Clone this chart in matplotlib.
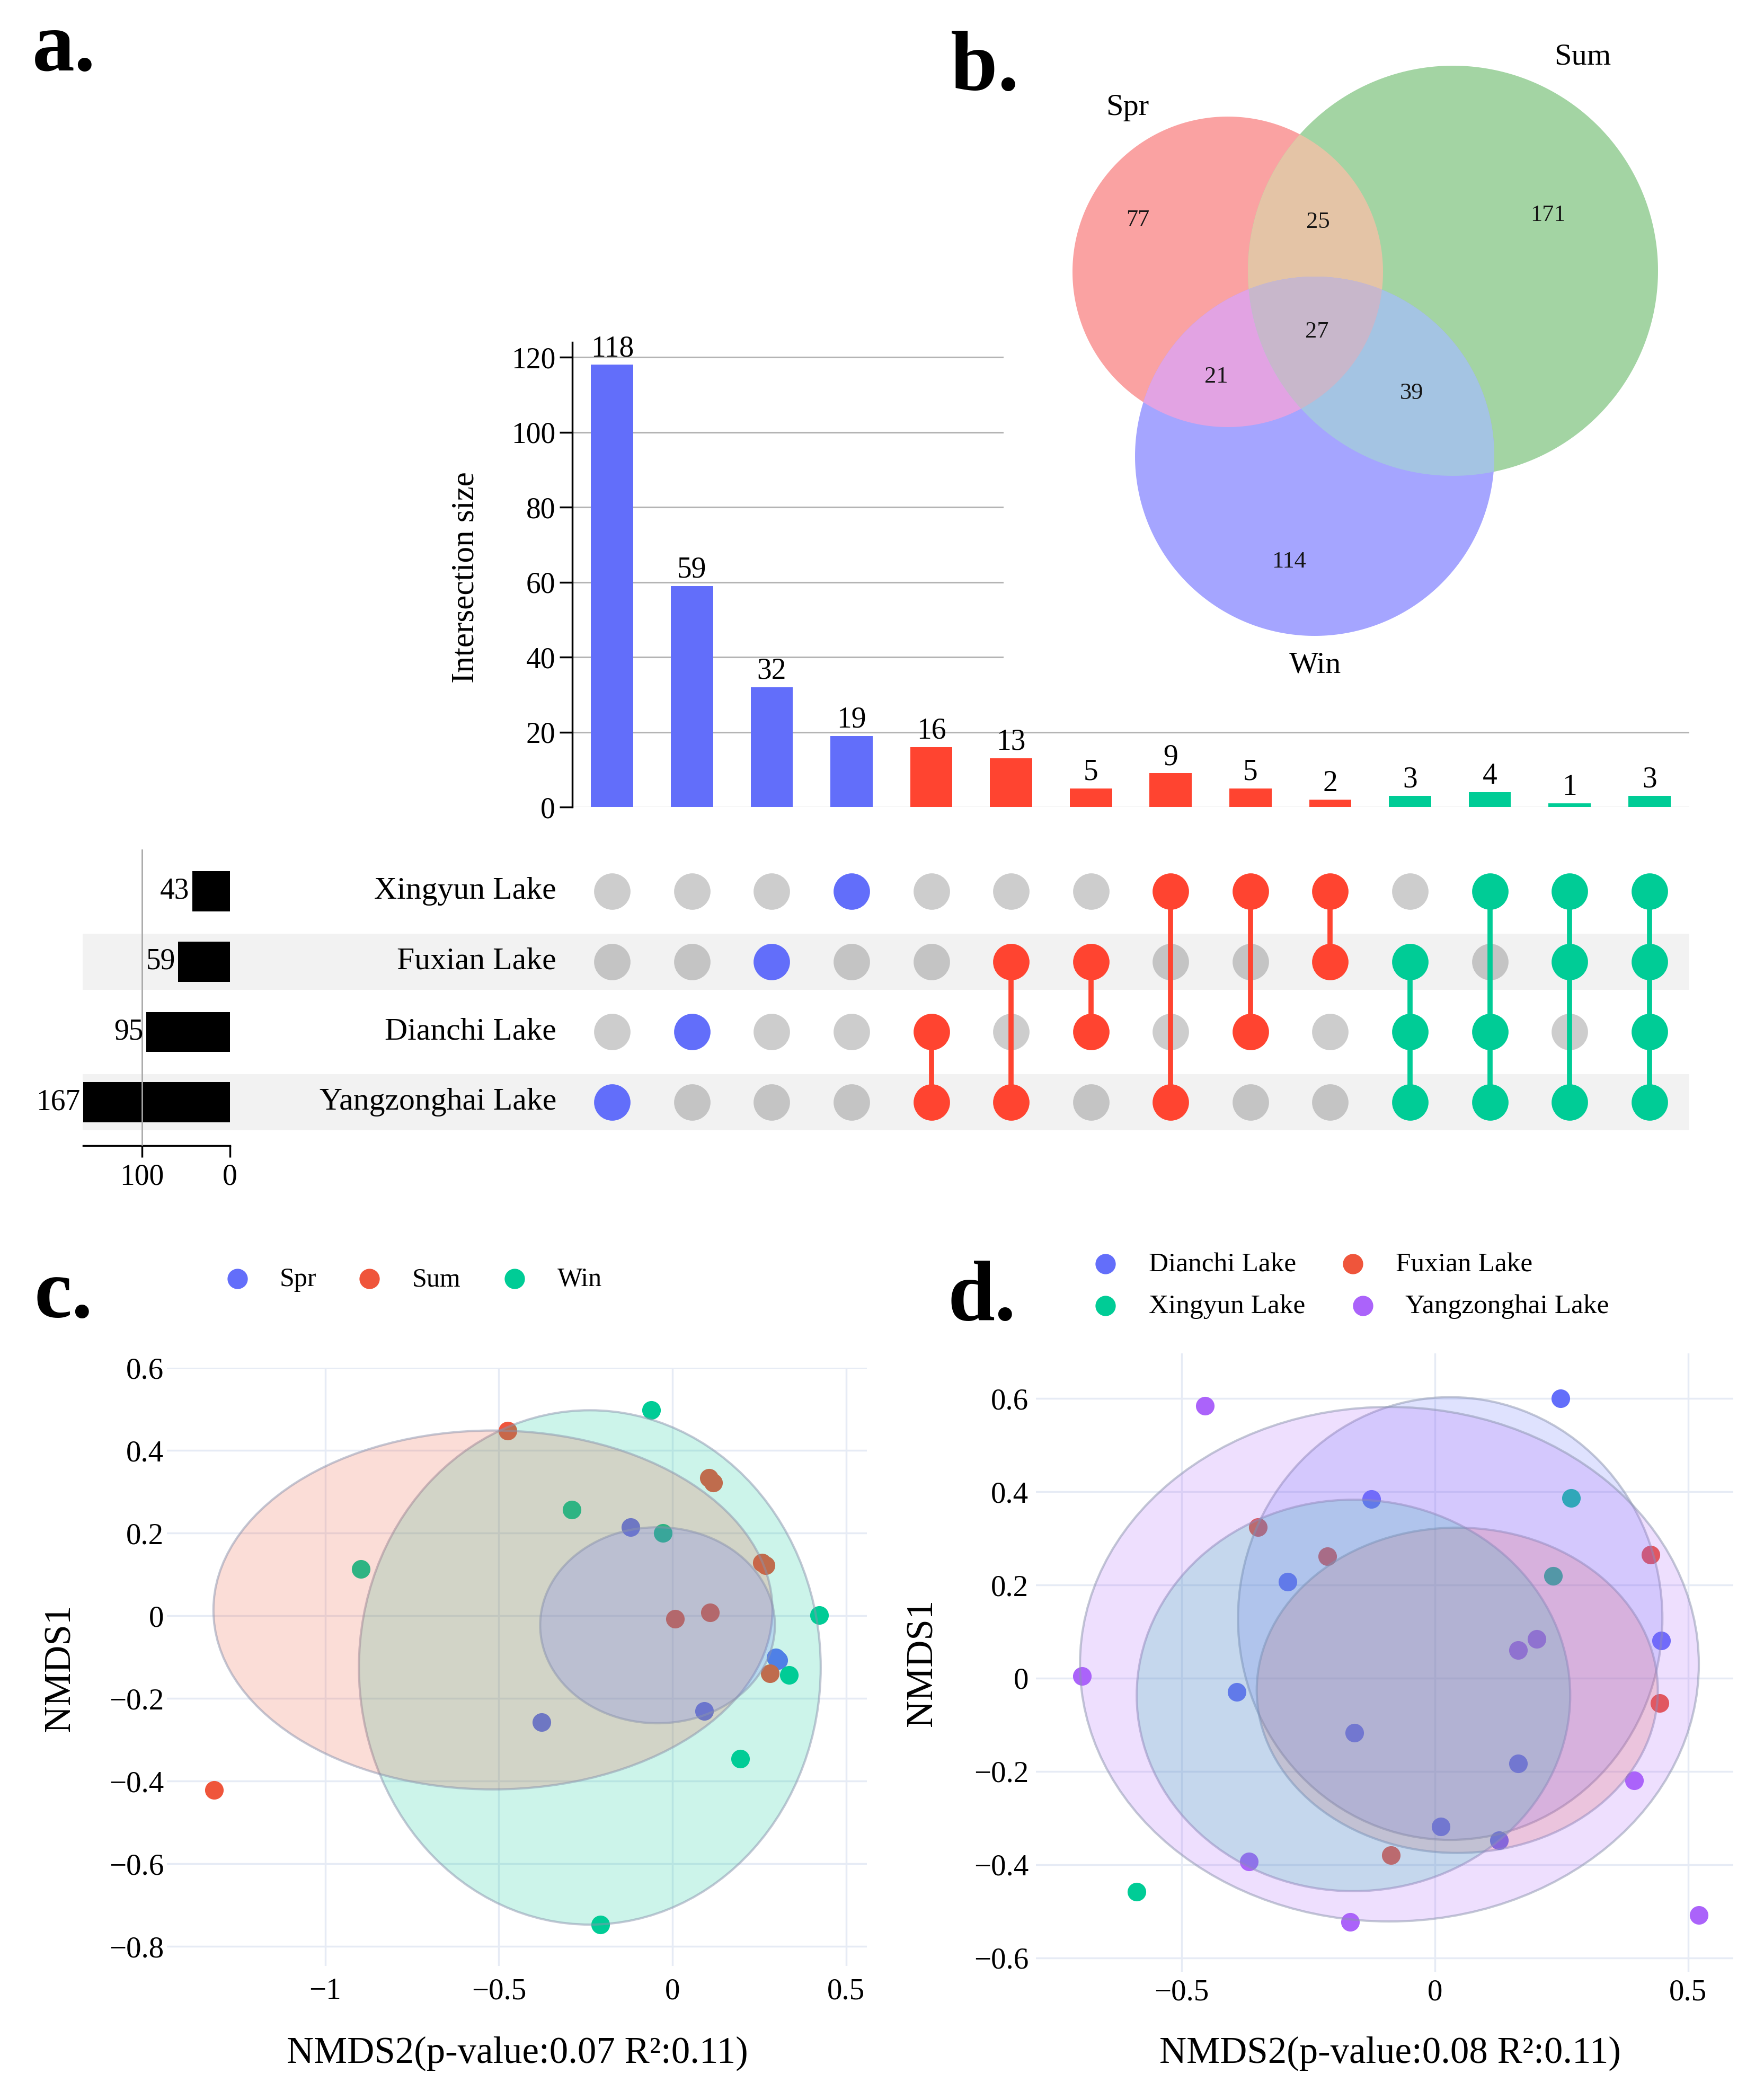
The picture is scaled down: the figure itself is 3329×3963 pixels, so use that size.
import numpy as np
import matplotlib
matplotlib.use('Agg')
import matplotlib.pyplot as plt
from matplotlib.patches import Ellipse, Polygon, Rectangle
from matplotlib.colors import to_rgba
from matplotlib.transforms import blended_transform_factory

plt.rcParams['font.family'] = ['Liberation Serif', 'DejaVu Serif']

W, H = 3330, 3963

# ---------------- panel a : upset ----------------
lakes = ['Xingyun Lake', 'Fuxian Lake', 'Dianchi Lake', 'Yangzonghai Lake']
set_sizes = [43, 59, 95, 167]
inter_sizes = [118, 59, 32, 19, 16, 13, 5, 9, 5, 2, 3, 4, 1, 3]
inter_members = [
    ['Yangzonghai Lake'], ['Dianchi Lake'], ['Fuxian Lake'], ['Xingyun Lake'],
    ['Dianchi Lake', 'Yangzonghai Lake'], ['Fuxian Lake', 'Yangzonghai Lake'],
    ['Fuxian Lake', 'Dianchi Lake'], ['Xingyun Lake', 'Yangzonghai Lake'],
    ['Xingyun Lake', 'Dianchi Lake'], ['Xingyun Lake', 'Fuxian Lake'],
    ['Fuxian Lake', 'Dianchi Lake', 'Yangzonghai Lake'],
    ['Xingyun Lake', 'Dianchi Lake', 'Yangzonghai Lake'],
    ['Xingyun Lake', 'Fuxian Lake', 'Yangzonghai Lake'],
    ['Xingyun Lake', 'Fuxian Lake', 'Dianchi Lake', 'Yangzonghai Lake'],
]
degree_colors = {1: '#626EFA', 2: '#FF4430', 3: '#00CC96', 4: '#00CC96'}

# ---------------- panel b : venn ----------------
venn_names = ['Spr', 'Sum', 'Win']
venn_regions = [('Spr',), ('Sum',), ('Win',), ('Spr', 'Sum'), ('Spr', 'Win'),
                ('Sum', 'Win'), ('Spr', 'Sum', 'Win')]
venn_counts = [77, 171, 114, 25, 21, 39, 27]

# ---------------- panel c : NMDS by season ----------------
season_names = ['Spr', 'Sum', 'Win']
spr_x = [-0.121, -0.377, 0.091, 0.298, 0.305]
spr_y = [0.214, -0.257, -0.231, -0.101, -0.108]
sum_x = [-0.475, 0.105, 0.118, 0.258, 0.268, 0.008, 0.108, 0.281, -1.32]
sum_y = [0.448, 0.333, 0.322, 0.128, 0.122, -0.007, 0.008, -0.139, -0.422]
win_x = [-0.061, -0.290, -0.028, -0.897, 0.422, 0.336, 0.195, -0.207]
win_y = [0.497, 0.257, 0.200, 0.113, 0.001, -0.143, -0.346, -0.747]
# confidence ellipses: centre x, centre y, half width, half height
season_ell = {'Spr': (-0.043, -0.023, 0.338, 0.237),
              'Sum': (-0.517, 0.014, 0.805, 0.434),
              'Win': (-0.238, -0.125, 0.665, 0.622)}

# ---------------- panel d : NMDS by lake ----------------
lake_names = ['Dianchi Lake', 'Fuxian Lake', 'Xingyun Lake', 'Yangzonghai Lake']
dianchi_x = [0.248, -0.126, -0.291, -0.391, 0.447, -0.159, 0.164, 0.011, 0.127]
dianchi_y = [0.600, 0.384, 0.207, -0.030, 0.081, -0.117, -0.183, -0.318, -0.348]
fuxian_x = [-0.350, -0.213, 0.426, 0.444, -0.087]
fuxian_y = [0.324, 0.261, 0.265, -0.054, -0.380]
xingyun_x = [0.269, 0.233, -0.589]
xingyun_y = [0.387, 0.219, -0.458]
yang_x = [-0.454, -0.697, 0.164, 0.201, 0.393, -0.367, -0.167, 0.521]
yang_y = [0.584, 0.004, 0.060, 0.084, -0.220, -0.394, -0.523, -0.508]
lake_ell = {'Yangzonghai Lake': (-0.090, 0.030, 0.611, 0.552),
            'Dianchi Lake': (0.030, 0.128, 0.419, 0.475),
            'Xingyun Lake': (-0.161, -0.037, 0.428, 0.420),
            'Fuxian Lake': (0.044, -0.026, 0.396, 0.349)}

C_BLUE, C_RED, C_GREEN, C_PURPLE = '#636EFA', '#EF553B', '#00CC96', '#AB63FA'

fig = plt.figure(figsize=(W / 100, H / 100), dpi=100)


def px_axes(x0, y0, x1, y1):
    return fig.add_axes([x0 / W, 1 - y1 / H, (x1 - x0) / W, (y1 - y0) / H])


# ---- intersection bars
ax_bar = px_axes(1080, 646, 3188, 1523)
xs = np.arange(len(inter_sizes))
bar_cols = [degree_colors[len(m)] for m in inter_members]
ax_bar.bar(xs, inter_sizes, width=0.53, color=bar_cols, zorder=3)
for xi, v in zip(xs, inter_sizes):
    ax_bar.annotate(str(v), (xi, v), xytext=(0, 3), textcoords='offset points',
                    ha='center', va='bottom', fontsize=40)
ax_bar.set_xlim(-0.5, len(xs) - 0.5)
ax_bar.set_ylim(0, 124)
ax_bar.set_yticks(range(0, 121, 20))
ax_bar.set_xticks([])
ax_bar.yaxis.grid(True, color='#b4b4b4', lw=2.2)
ax_bar.get_ygridlines()[0].set_color('#f0f0f0')
ax_bar.set_axisbelow(True)
for s in ['top', 'right', 'bottom']:
    ax_bar.spines[s].set_visible(False)
ax_bar.spines['left'].set_linewidth(2.5)
ax_bar.tick_params(axis='y', length=17, width=2.5, labelsize=40, pad=6)
fig.text(879 / W, 1 - 1090 / H, 'Intersection size', rotation=90,
         ha='center', va='center', fontsize=44)

# ---- venn (white box covers the grid behind it)
ax_v = px_axes(1894, 0, 3330, 1320)
ax_v.set_xlim(1894, 3330)
ax_v.set_ylim(1320, 0)
ax_v.set_facecolor('white')
ax_v.set_xticks([])
ax_v.set_yticks([])
for s in ax_v.spines.values():
    s.set_visible(False)

circles = {'Spr': (2317, 513, 293), 'Sum': (2742, 511, 387), 'Win': (2481, 861, 339)}
region_colors = {('Spr',): '#FAA2A2', ('Sum',): '#A3D4A3', ('Win',): '#A5A5FF',
                 ('Spr', 'Sum'): '#E4C4A6', ('Spr', 'Win'): '#E2A3E3',
                 ('Sum', 'Win'): '#A4C4E3', ('Spr', 'Sum', 'Win'): '#C8B7CB'}
count_pos = {('Spr',): (2147, 415), ('Sum',): (2921, 406), ('Win',): (2433, 1060),
             ('Spr', 'Sum'): (2487, 419), ('Spr', 'Win'): (2295, 711),
             ('Sum', 'Win'): (2664, 742), ('Spr', 'Sum', 'Win'): (2485, 626)}
name_pos = {'Spr': (2128, 203), 'Sum': (2987, 108), 'Win': (2482, 1256)}


def circle_poly(cx, cy, r, n=360):
    t = np.linspace(0, 2 * np.pi, n, endpoint=False)
    return [(cx + r * np.cos(a), cy + r * np.sin(a)) for a in t]


def clip_poly(subj, clip):
    def inside(p, a, b):
        return (b[0] - a[0]) * (p[1] - a[1]) - (b[1] - a[1]) * (p[0] - a[0]) >= 0

    def cross_pt(p1, p2, a, b):
        den = (p1[0] - p2[0]) * (a[1] - b[1]) - (p1[1] - p2[1]) * (a[0] - b[0])
        t = ((p1[0] - a[0]) * (a[1] - b[1]) - (p1[1] - a[1]) * (a[0] - b[0])) / den
        return (p1[0] + t * (p2[0] - p1[0]), p1[1] + t * (p2[1] - p1[1]))

    out = list(subj)
    for i in range(len(clip)):
        a, b = clip[i], clip[(i + 1) % len(clip)]
        inp, out = out, []
        if not inp:
            break
        s = inp[-1]
        for e in inp:
            if inside(e, a, b):
                if not inside(s, a, b):
                    out.append(cross_pt(s, e, a, b))
                out.append(e)
            elif inside(s, a, b):
                out.append(cross_pt(s, e, a, b))
            s = e
    return out


polys = {k: circle_poly(*v) for k, v in circles.items()}
for reg, cnt in zip(venn_regions, venn_counts):
    shape = polys[reg[0]]
    for other in reg[1:]:
        shape = clip_poly(shape, polys[other])
    ax_v.add_patch(Polygon(shape, closed=True, facecolor=region_colors[reg],
                           edgecolor='none', zorder=1 + len(reg)))
    ax_v.text(*count_pos[reg], str(cnt), ha='center', va='center', fontsize=32,
              color='#151515', zorder=10)
for nm in venn_names:
    ax_v.text(*name_pos[nm], nm, ha='center', va='center', fontsize=42, zorder=10)

# ---- membership matrix
ax_m = px_axes(1080, 1603, 3188, 2162)
ax_m.set_xlim(-0.5, len(xs) - 0.5)
ax_m.set_ylim(3.617, -0.595)
ax_m.axis('off')
band_tr = blended_transform_factory(fig.transFigure, ax_m.transData)
for i in [1, 3]:
    ax_m.add_patch(Rectangle((156 / W, i - 0.4), (3188 - 156) / W, 0.8,
                             transform=band_tr, facecolor='#f2f2f2',
                             edgecolor='none', zorder=0, clip_on=False))
for j, mem in enumerate(inter_members):
    col = degree_colors[len(mem)]
    rows = [lakes.index(m) for m in mem]
    for i in range(len(lakes)):
        if i not in rows:
            ax_m.scatter(j, i, s=2450, color='#c4c4c4' if i % 2 else '#cdcdcd',
                         linewidths=0, zorder=2)
    if len(rows) > 1:
        ax_m.plot([j, j], [min(rows), max(rows)], color=col, lw=7, zorder=3)
    ax_m.scatter([j] * len(rows), rows, s=2450, color=col, linewidths=0, zorder=4)
for i, lk in enumerate(lakes):
    ax_m.text(-0.7, i, lk, ha='right', va='center', fontsize=43)

# ---- set sizes
ax_s = px_axes(157, 1603, 434, 2162)
ax_s.set_facecolor('none')
ax_s.barh(range(len(lakes)), set_sizes, height=0.57, color='black', zorder=2)
ax_s.axvline(100, color='#a8a8a8', lw=2, zorder=3)
ax_s.set_xlim(167, 0)
ax_s.set_ylim(3.617, -0.595)
for i, v in enumerate(set_sizes):
    ax_s.annotate(str(v), (v, i), xytext=(-4, 0), textcoords='offset points',
                  ha='right', va='center', fontsize=40)
ax_s.set_xticks([100, 0])
ax_s.set_yticks([])
for s in ['top', 'right', 'left']:
    ax_s.spines[s].set_visible(False)
ax_s.spines['bottom'].set_linewidth(2.5)
ax_s.tick_params(axis='x', length=16, width=2.5, labelsize=40, pad=8)


# ---- NMDS panels
def nmds_axes(ax, xlim, ylim, xt, xtl, yt, ytl, xpad, ypad):
    ax.set_xlim(*xlim)
    ax.set_ylim(*ylim)
    ax.set_xticks(xt)
    ax.set_xticklabels(xtl)
    ax.set_yticks(yt)
    ax.set_yticklabels(ytl)
    ax.grid(True, color='#e6ebf5', lw=2.5)
    ax.set_axisbelow(True)
    for s in ax.spines.values():
        s.set_visible(False)
    ax.tick_params(axis='x', length=0, labelsize=41, pad=xpad)
    ax.tick_params(axis='y', length=0, labelsize=41, pad=ypad)


def add_ell(ax, params, color):
    cx, cy, a, b = params
    ax.add_patch(Ellipse((cx, cy), 2 * a, 2 * b, facecolor=to_rgba(color, 0.2),
                         edgecolor=to_rgba('#8a93ad', 0.5), lw=3, zorder=3))


def minus_labels(vals):
    return [('\u2212' + f'{abs(v):g}') if v < 0 else f'{v:g}' for v in vals]


yt_c = [-0.8, -0.6, -0.4, -0.2, 0, 0.2, 0.4, 0.6]
ax_c = px_axes(315, 2581, 1636, 3710)
for gx, gy, col in [(spr_x, spr_y, C_BLUE), (sum_x, sum_y, C_RED), (win_x, win_y, C_GREEN)]:
    ax_c.scatter(gx, gy, s=640, color=col, linewidths=0, zorder=2)
for nm, col in [('Win', C_GREEN), ('Sum', C_RED), ('Spr', C_BLUE)]:
    add_ell(ax_c, season_ell[nm], col)
nmds_axes(ax_c, (-1.456, 0.560), (-0.847, 0.6), [-1, -0.5, 0, 0.5],
          minus_labels([-1, -0.5, 0, 0.5]), yt_c, minus_labels(yt_c), 16, 4)

yt_d = [-0.6, -0.4, -0.2, 0, 0.2, 0.4, 0.6]
ax_d = px_axes(1955, 2554, 3271, 3721)
for gx, gy, col in [(dianchi_x, dianchi_y, C_BLUE), (fuxian_x, fuxian_y, C_RED),
                    (xingyun_x, xingyun_y, C_GREEN), (yang_x, yang_y, C_PURPLE)]:
    ax_d.scatter(gx, gy, s=640, color=col, linewidths=0, zorder=2)
for nm, col in zip(lake_names, [C_BLUE, C_RED, C_GREEN, C_PURPLE]):
    add_ell(ax_d, lake_ell[nm], col)
nmds_axes(ax_d, (-0.788, 0.589), (-0.630, 0.697), [-0.5, 0, 0.5],
          minus_labels([-0.5, 0, 0.5]), yt_d, minus_labels(yt_d), 10, 10)

# ---- overlay: panel letters, legends, axis titles
ax_o = fig.add_axes([0, 0, 1, 1])
ax_o.set_xlim(0, W)
ax_o.set_ylim(H, 0)
ax_o.axis('off')
for letter, (lx, ly) in {'a.': (61, 133), 'b.': (1794, 170),
                         'c.': (65, 2486), 'd.': (1789, 2491)}.items():
    ax_o.text(lx, ly, letter, fontsize=115, fontweight='bold', ha='left', va='baseline')

for nm, col, mx, tx in zip(season_names, [C_BLUE, C_RED, C_GREEN],
                           [448, 697, 971], [528, 778, 1052]):
    ax_o.scatter(mx, 2413, s=760, color=col, linewidths=0)
    ax_o.text(tx, 2415, nm, fontsize=36, ha='left', va='center')

for nm, col, mx, my, tx in zip(lake_names, [C_BLUE, C_RED, C_GREEN, C_PURPLE],
                               [2086, 2553, 2086, 2572], [2385, 2385, 2464, 2464],
                               [2168, 2634, 2168, 2652]):
    ax_o.scatter(mx, my, s=760, color=col, linewidths=0)
    ax_o.text(tx, my + 2, nm, fontsize=37, ha='left', va='center')

ax_o.text(976, 3875, 'NMDS2(p-value:0.07 R\u00b2:0.11)', fontsize=51, ha='center', va='center')
ax_o.text(2623, 3875, 'NMDS2(p-value:0.08 R\u00b2:0.11)', fontsize=51, ha='center', va='center')
ax_o.text(114, 3148, 'NMDS1', fontsize=51, rotation=90, ha='center', va='center')
ax_o.text(1741, 3138, 'NMDS1', fontsize=51, rotation=90, ha='center', va='center')

fig.savefig('out.png', dpi=100)
